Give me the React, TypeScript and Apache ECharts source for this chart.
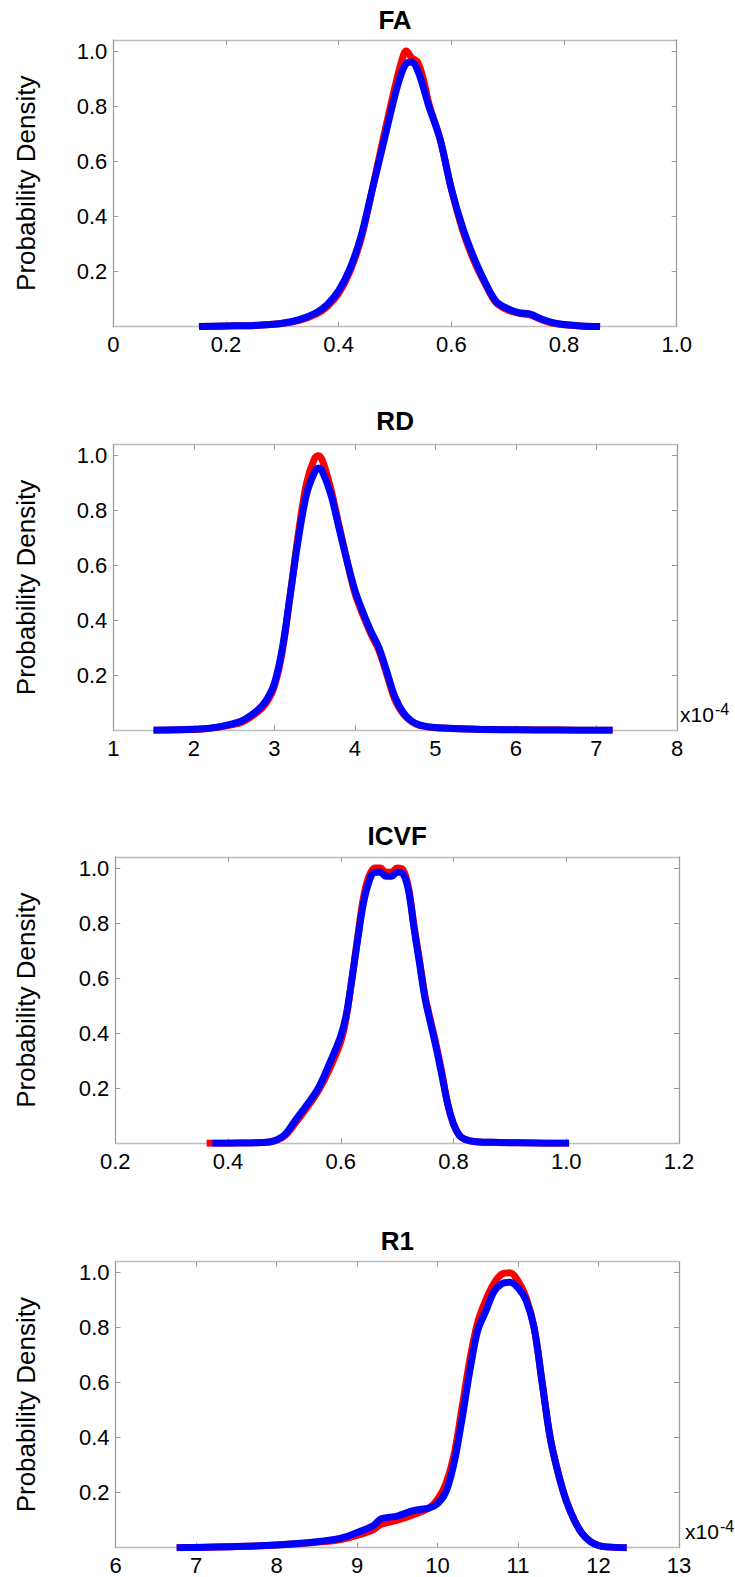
import React, { useEffect, useRef } from 'react';
import * as echarts from 'echarts';

// ---------- data ----------
const faX = [0.152, 0.2, 0.25, 0.3, 0.33, 0.36, 0.38, 0.4, 0.42, 0.44, 0.46, 0.48, 0.5, 0.51, 0.52, 0.53, 0.54, 0.55, 0.56, 0.58, 0.6, 0.62, 0.64, 0.66, 0.68, 0.7, 0.72, 0.74, 0.76, 0.78, 0.8, 0.83, 0.864];
const faBlue = [0, 0.002, 0.004, 0.012, 0.025, 0.05, 0.08, 0.13, 0.21, 0.33, 0.5, 0.67, 0.84, 0.91, 0.955, 0.96, 0.93, 0.87, 0.8, 0.68, 0.5, 0.36, 0.25, 0.16, 0.09, 0.065, 0.05, 0.045, 0.027, 0.014, 0.007, 0.002, 0];
const faRed = [0, 0.002, 0.004, 0.011, 0.022, 0.045, 0.073, 0.12, 0.2, 0.32, 0.5, 0.69, 0.87, 0.95, 1.0, 0.975, 0.96, 0.9, 0.81, 0.68, 0.5, 0.35, 0.24, 0.155, 0.085, 0.06, 0.048, 0.042, 0.025, 0.012, 0.006, 0.002, 0];

const rdX = [1.5, 2.0, 2.2, 2.4, 2.6, 2.8, 2.9, 3.0, 3.1, 3.2, 3.3, 3.4, 3.5, 3.55, 3.6, 3.7, 3.8, 3.9, 4.0, 4.1, 4.2, 4.3, 4.4, 4.5, 4.6, 4.7, 4.8, 5.0, 5.5, 6.0, 6.5, 7.2];
const rdBlue = [0, 0.004, 0.008, 0.018, 0.035, 0.075, 0.11, 0.17, 0.3, 0.5, 0.7, 0.86, 0.94, 0.955, 0.94, 0.86, 0.74, 0.62, 0.51, 0.43, 0.36, 0.3, 0.21, 0.12, 0.065, 0.035, 0.02, 0.01, 0.004, 0.002, 0.001, 0];
const rdRed = [0, 0.003, 0.007, 0.016, 0.03, 0.068, 0.1, 0.16, 0.29, 0.5, 0.72, 0.9, 0.99, 1.0, 0.98, 0.88, 0.75, 0.62, 0.5, 0.42, 0.35, 0.29, 0.2, 0.11, 0.06, 0.032, 0.018, 0.009, 0.004, 0.002, 0.001, 0];

const icvfBlueX = [0.372, 0.42, 0.46, 0.48, 0.5, 0.52, 0.54, 0.56, 0.58, 0.6, 0.61, 0.62, 0.63, 0.64, 0.65, 0.66, 0.67, 0.68, 0.69, 0.7, 0.71, 0.72, 0.73, 0.74, 0.75, 0.76, 0.77, 0.78, 0.79, 0.8, 0.81, 0.82, 0.84, 0.88, 0.94, 1.005];
const icvfRedX = [0.362, 0.42, 0.46, 0.48, 0.5, 0.52, 0.54, 0.56, 0.58, 0.6, 0.61, 0.62, 0.63, 0.64, 0.65, 0.66, 0.67, 0.68, 0.69, 0.7, 0.71, 0.72, 0.73, 0.74, 0.75, 0.76, 0.77, 0.78, 0.79, 0.8, 0.81, 0.82, 0.84, 0.88, 0.94, 1.005];
const icvfBlue = [0, 0.001, 0.003, 0.008, 0.03, 0.085, 0.14, 0.2, 0.29, 0.39, 0.47, 0.6, 0.74, 0.87, 0.95, 0.985, 0.985, 0.97, 0.97, 0.985, 0.98, 0.92, 0.78, 0.65, 0.52, 0.43, 0.34, 0.24, 0.14, 0.07, 0.03, 0.015, 0.006, 0.003, 0.001, 0];
const icvfRed = [0, 0.001, 0.003, 0.007, 0.026, 0.075, 0.13, 0.19, 0.27, 0.37, 0.46, 0.6, 0.75, 0.89, 0.97, 1.0, 1.0, 0.985, 0.985, 1.0, 0.995, 0.93, 0.79, 0.66, 0.53, 0.44, 0.35, 0.25, 0.14, 0.07, 0.03, 0.015, 0.006, 0.003, 0.001, 0];

const r1X = [6.76, 7.0, 7.5, 8.0, 8.5, 8.8, 9.0, 9.2, 9.3, 9.5, 9.7, 9.9, 10.0, 10.1, 10.2, 10.3, 10.4, 10.5, 10.6, 10.7, 10.8, 10.9, 11.0, 11.1, 11.2, 11.3, 11.4, 11.5, 11.6, 11.7, 11.8, 11.9, 12.0, 12.1, 12.35];
const r1Blue = [0, 0.001, 0.004, 0.01, 0.022, 0.035, 0.055, 0.08, 0.105, 0.115, 0.135, 0.145, 0.16, 0.2, 0.3, 0.46, 0.64, 0.79, 0.86, 0.93, 0.96, 0.965, 0.945, 0.9, 0.8, 0.6, 0.4, 0.27, 0.17, 0.1, 0.05, 0.022, 0.008, 0.003, 0];
const r1Red = [0, 0.001, 0.004, 0.01, 0.02, 0.03, 0.045, 0.065, 0.085, 0.1, 0.12, 0.145, 0.175, 0.23, 0.33, 0.5, 0.68, 0.82, 0.9, 0.96, 0.995, 1.0, 0.97, 0.91, 0.8, 0.6, 0.4, 0.27, 0.17, 0.1, 0.05, 0.022, 0.008, 0.003, 0];

const yTicks = [0.2, 0.4, 0.6, 0.8, 1.0];
const titles = ['FA', 'RD', 'ICVF', 'R1'];
const yLabel = 'Probability Density';

const FONT = "'Liberation Sans', Arial, Helvetica, sans-serif";

const zip = (xs: number[], ys: number[]) => xs.map((x, i) => [x, ys[i]]);

const panels = [
  { title: titles[0], min: 0, max: 1, interval: 0.2, redX: faX, blueX: faX, red: faRed, blue: faBlue,
    grid: { left: 113.3, top: 40, width: 563.4, height: 286.5 }, titleY: 20, exp: false,
    fmt: (v: number) => (Math.abs(v) < 1e-9 ? '0' : v.toFixed(1)) },
  { title: titles[1], min: 1, max: 8, interval: 1, redX: rdX, blueX: rdX, red: rdRed, blue: rdBlue,
    grid: { left: 113.3, top: 444.7, width: 563.7, height: 285.6 }, titleY: 421, exp: true,
    fmt: (v: number) => String(Math.round(v)) },
  { title: titles[2], min: 0.2, max: 1.2, interval: 0.2, redX: icvfRedX, blueX: icvfBlueX, red: icvfRed, blue: icvfBlue,
    grid: { left: 115.3, top: 857, width: 563.7, height: 286.3 }, titleY: 836, exp: false,
    fmt: (v: number) => v.toFixed(1) },
  { title: titles[3], min: 6, max: 13, interval: 1, redX: r1X, blueX: r1X, red: r1Red, blue: r1Blue,
    grid: { left: 115.5, top: 1261.7, width: 563.5, height: 286 }, titleY: 1241, exp: true,
    fmt: (v: number) => String(Math.round(v)) },
];

export default function App() {
  const ref = useRef<HTMLDivElement>(null);
  useEffect(() => {
    if (!ref.current) return;
    const chart = echarts.init(ref.current, undefined, { renderer: 'svg' });
    const grids: any[] = [];
    const xAxes: any[] = [];
    const yAxes: any[] = [];
    const series: any[] = [];
    const graphics: any[] = [];
    panels.forEach((p, i) => {
      grids.push({ ...p.grid, containLabel: false });
      const xLine = { show: true, onZero: false, lineStyle: { color: '#bdbdbd', width: 1.3 } };
      const yLine = { show: true, onZero: false, lineStyle: { color: '#9e9e9e', width: 1.3 } };
      const tick = { show: true, inside: true, length: 5, lineStyle: { color: '#999', width: 1 } };
      xAxes.push({
        gridIndex: i, type: 'value', position: 'bottom', min: p.min, max: p.max, interval: p.interval,
        axisLine: xLine, axisTick: tick, splitLine: { show: false },
        axisLabel: { margin: 7, fontSize: 22, color: '#000', fontFamily: FONT, formatter: p.fmt },
      });
      xAxes.push({
        gridIndex: i, type: 'value', position: 'top', min: p.min, max: p.max, interval: p.interval,
        axisLine: xLine, axisTick: tick, splitLine: { show: false }, axisLabel: { show: false },
      });
      yAxes.push({
        gridIndex: i, type: 'value', position: 'left', min: 0, max: 1.04,
        axisLine: yLine, axisTick: { ...tick, customValues: yTicks }, splitLine: { show: false },
        axisLabel: { margin: 6, fontSize: 22, color: '#000', fontFamily: FONT, customValues: yTicks,
          formatter: (v: number) => v.toFixed(1) },
      });
      yAxes.push({
        gridIndex: i, type: 'value', position: 'right', min: 0, max: 1.04,
        axisLine: yLine, axisTick: { ...tick, customValues: yTicks }, splitLine: { show: false },
        axisLabel: { show: false },
      });
      const base = {
        type: 'line', xAxisIndex: 2 * i, yAxisIndex: 2 * i, showSymbol: false, symbol: 'none',
        smooth: 0.35, silent: true,
      };
      series.push({ ...base, name: p.title + ' red', data: zip(p.redX, p.red), lineStyle: { color: '#ff0000', width: 7, join: 'round' }, z: 2 });
      series.push({ ...base, name: p.title + ' blue', data: zip(p.blueX, p.blue), lineStyle: { color: '#0000ff', width: 7, join: 'round' }, z: 3 });

      const cx = p.grid.left + p.grid.width / 2;
      const cy = p.grid.top + p.grid.height / 2;
      graphics.push({
        type: 'text', x: cx, y: p.titleY,
        style: { text: p.title, fontSize: 26, fontWeight: 'bold', fontFamily: FONT, fill: '#000', align: 'center', verticalAlign: 'middle' },
      });
      graphics.push({
        type: 'text', x: 26, y: cy, rotation: Math.PI / 2,
        style: { text: yLabel, fontSize: 26, fontFamily: FONT, fill: '#000', align: 'center', verticalAlign: 'middle' },
      });
      if (p.exp) {
        const right = p.grid.left + p.grid.width;
        const bottom = p.grid.top + p.grid.height;
        const x0 = i === 1 ? right + 3 : right + 6;
        graphics.push({
          type: 'text', x: x0, y: bottom - 16,
          style: { text: 'x10', fontSize: 21, fontFamily: FONT, fill: '#000', align: 'left', verticalAlign: 'middle' },
        });
        graphics.push({
          type: 'text', x: x0 + 35, y: bottom - 21,
          style: { text: '-4', fontSize: 16, fontFamily: FONT, fill: '#000', align: 'left', verticalAlign: 'middle' },
        });
      }
    });
    chart.setOption({
      animation: false,
      backgroundColor: '#ffffff',
      grid: grids,
      xAxis: xAxes,
      yAxis: yAxes,
      series,
      graphic: { elements: graphics },
    });
    return () => chart.dispose();
  }, []);
  return (
    <div
      ref={ref}
      style={{ position: 'absolute', left: 0, top: 0, width: 735, height: 1577, background: '#fff' }}
    />
  );
}
